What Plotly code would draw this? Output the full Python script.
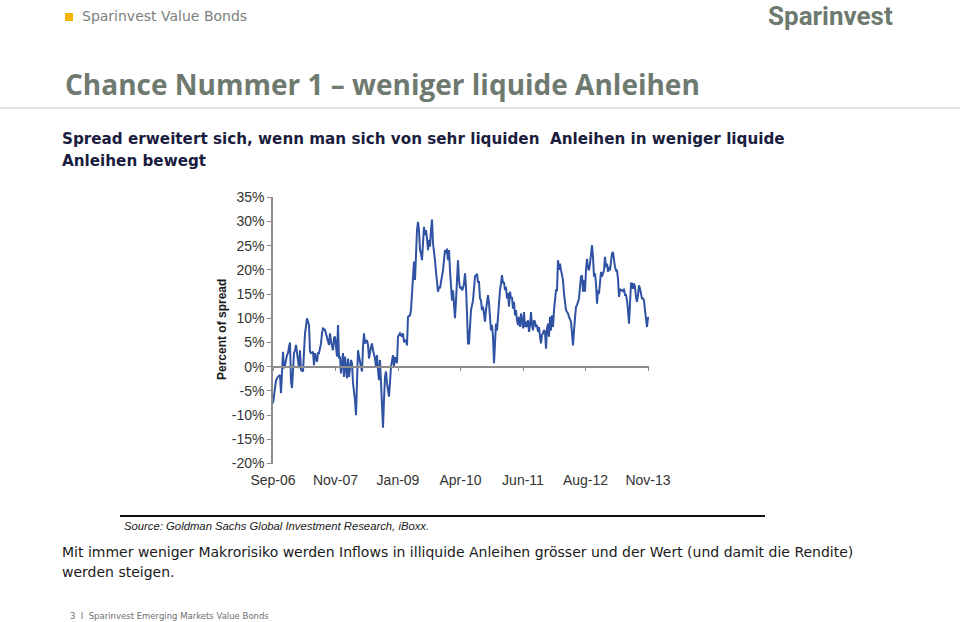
import plotly.graph_objects as go

# ---------------- data ----------------
week = [0, 2, 3, 5, 7, 8, 9, 10, 11, 12, 14, 15, 16, 17, 18, 19, 21, 22, 23, 24, 26, 27, 28, 30, 31, 32, 33, 34, 36, 37, 38, 40, 41, 42, 44, 45, 46, 48, 49, 50, 52, 53, 54, 56, 57, 58, 60, 61, 62, 64, 65, 66,
        67, 68, 70, 71, 72, 74, 75, 76, 78, 79, 80, 82, 83, 84, 85, 86, 88, 89, 90, 91, 92, 94, 95, 96, 98, 99, 100, 102, 103, 104, 105, 106, 107, 108, 109, 110, 111, 112, 113, 114, 116, 117, 118, 120, 121,
        122, 124, 125, 127, 129, 130, 131, 133, 134, 135, 137, 138, 139, 140, 141, 142, 143, 144, 145, 146, 147, 148, 149, 150, 151, 152, 153, 154, 155, 156, 157, 158, 159, 160, 161, 162, 163, 164, 165, 166, 167, 168, 169, 170, 171, 172, 173, 174, 175, 176, 177, 178, 179, 180, 181, 182, 183, 184, 185, 186, 187, 188, 189, 190, 191, 192, 193, 194, 195, 196, 197,
        198, 200, 201, 202, 204, 205, 206, 207, 208, 209, 210, 211, 212, 213, 214, 215, 216, 217, 218, 219, 220, 221, 222, 223, 224, 225, 226, 227, 228, 229, 230, 231, 232, 233, 234, 235, 236, 237, 238, 239, 240, 241, 242, 243, 244, 245, 246, 247, 248, 249, 250, 251, 252, 253, 254, 255, 256, 257, 258, 259, 260, 261, 262, 263, 264, 265, 266, 267, 268, 269, 270, 271, 272, 273, 274, 275, 276, 277, 278, 279, 280, 281, 282, 283,
        284, 285, 286, 287, 288, 289, 290, 291, 292, 293, 294, 295, 296, 297, 298, 299, 300, 301, 302, 303, 304, 305, 306, 307, 308, 309, 310, 311, 312, 313, 314, 315, 316, 317, 318, 319, 320, 321, 322, 323, 324, 325, 326, 327, 328, 329, 330, 331, 332, 333, 334, 335, 336, 337, 338, 339, 340, 341, 342, 343, 344, 345, 346, 347, 348, 349, 350, 351, 352, 353, 354, 355, 356, 357, 358, 359, 360, 361, 362, 363, 364, 365, 366, 367, 368, 369, 370, 371, 372, 373, 374, 375, 376]

spread = [-7.6, -4.1, -2.8, -2.1, -1.7, -5.5, 0.0, 3.1, -0.3, 0.3, 2.4, 2.8, 4.1, 5.0, -3.0, -4.4, 2.8, 3.4, 4.5, 2.8, -0.3, 3.4, -0.7, -1.0, 3.4, 6.9, 8.3, 10.0, 8.6, 3.1, 2.8, 3.1, 0.3, 2.8, 1.0, 2.8, 2.8, 4.8, 6.9, 7.9, 7.6, 6.9, 5.9, 4.5, 6.9, 5.2, 3.4, 5.9, 6.2, 2.1, 8.6, 1.7,
          2.1, -1.4, 2.8, -2.1, 2.1, -2.4, 1.7, -2.1, 1.4, 0.7, -3.4, -6.9, -10.0, -4.8, 3.4, 2.1, 0.3, -1.0, 4.1, 6.9, 4.8, 5.5, 4.5, 1.7, 4.1, 4.8, 3.4, 1.7, 0.0, 2.4, -0.7, -2.8, 1.4, -3.4, -5.5, -12.6, -6.9, -2.1, -1.0, -3.4, -6.2, -3.1, 0.0, 2.4, 0.0,
          2.0, 0.7, 6.2, 6.9, 6.2, 6.9, 5.1, 5.5, 4.4, 10.3, 10.6, 11.7, 15.1, 19.9, 21.7, 17.9, 24.8, 28.2, 29.9, 28.2, 24.1, 23.4, 22.0, 24.8, 28.9, 27.2, 28.2, 26.5, 24.1, 26.2, 24.8, 28.2, 30.4, 25.5, 22.7, 22.0, 19.6, 16.5, 15.5, 16.5, 16.2, 17.5, 18.6, 19.9, 22.0, 24.1, 23.4, 24.4, 22.0, 24.1, 19.9, 17.2, 13.7, 15.8, 12.4, 10.0, 13.7, 19.9, 22.0, 17.9, 16.2, 16.5, 15.8, 16.2, 17.2, 19.3, 16.5, 11.0, 4.8, 4.8, 8.2,
          11.7, 13.7, 17.2, 18.6, 19.2, 17.5, 17.5, 14.1, 13.7, 11.7, 12.4, 10.3, 9.3, 11.7, 14.1, 14.8, 13.1, 8.9, 7.5, 8.6, 6.2, 0.7, 6.5, 8.9, 7.5, 10.3, 14.4, 15.8, 17.2, 18.9, 17.2, 17.5, 15.8, 16.5, 14.1, 15.2, 12.4, 15.5, 14.1, 14.4, 12.0, 13.4, 10.6, 11.7, 9.6, 8.6, 10.3, 8.2, 11.0, 8.9, 7.9, 11.3, 8.2, 9.3, 8.2, 9.6, 7.2, 8.6, 11.3, 8.6, 7.5, 9.6, 9.3, 8.2, 8.6, 7.2, 8.2, 6.2, 4.8, 6.6, 6.9, 7.6, 7.2, 3.7, 7.9, 8.9, 6.2, 10.3, 7.5, 10.6, 8.2, 11.7, 14.1, 15.8,
          15.8, 22.0, 20.0, 21.3, 20.0, 18.6, 17.9, 15.1, 12.4, 11.7, 11.3, 11.0, 10.3, 9.6, 9.3, 6.9, 4.4, 7.5, 11.0, 12.4, 12.7, 13.4, 14.1, 16.5, 18.6, 18.9, 15.5, 17.9, 15.5, 19.9, 22.3, 20.6, 19.9, 21.3, 23.4, 25.1, 22.7, 18.6, 19.3, 17.2, 13.0, 15.8, 15.1, 17.2, 19.6, 18.6, 19.3, 19.9, 22.7, 20.6, 21.3, 19.6, 20.6, 19.9, 21.7, 23.4, 23.7, 22.0, 20.6, 19.9, 19.9, 18.2, 14.4, 16.1, 15.8, 15.8, 15.5, 16.1, 14.8, 14.8, 13.7, 11.7, 8.9, 13.0, 17.2, 17.2, 16.1, 17.2, 16.5, 14.4, 13.4, 14.8, 16.8, 16.1, 15.1, 14.1, 14.1, 13.7, 11.7, 9.6, 8.2, 10.2, 9.9]

tick_weeks = [0, 62.5, 125, 187.5, 250, 312.5, 375]
tick_labels = ["Sep-06", "Nov-07", "Jan-09", "Apr-10", "Jun-11", "Aug-12", "Nov-13"]
y_ticks = [35, 30, 25, 20, 15, 10, 5, 0, -5, -10, -15, -20]
y_tick_labels = ["35%", "30%", "25%", "20%", "15%", "10%", "5%", "0%", "-5%", "-10%", "-15%", "-20%"]

# ---------------- layout helpers ----------------
W, H = 960, 622
def px(xp):
    return xp / W
def py(yp):
    return 1 - yp / H

x_dom = [px(273), px(649)]
y_dom = [py(463.5), py(197.3)]
y_min, y_max = -20, 35
zero_pos = y_dom[0] + (0 - y_min) / (y_max - y_min) * (y_dom[1] - y_dom[0])

AX = "#8c8c8c"
TICKFONT = dict(family="Liberation Sans, Arial, sans-serif", size=14, color="#333333")

fig = go.Figure()
fig.add_trace(go.Scatter(x=week, y=spread, mode="lines",
                         line=dict(color="#2f52a3", width=2),
                         xaxis="x", yaxis="y", showlegend=False, hoverinfo="skip"))
fig.add_trace(go.Scatter(x=week, y=[None] * len(week), mode="lines",
                         xaxis="x2", yaxis="y", showlegend=False, hoverinfo="skip"))

fig.update_layout(
    width=W, height=H,
    margin=dict(l=0, r=0, t=0, b=0, pad=0, autoexpand=False),
    showlegend=False,
    paper_bgcolor="white", plot_bgcolor="white",
    xaxis=dict(domain=x_dom, range=[0, 376], anchor="y",
               tickmode="array", tickvals=tick_weeks, ticktext=tick_labels,
               tickfont=TICKFONT, ticks="", showline=False, showgrid=False,
               zeroline=False, ticklabelstandoff=6, automargin=False),
    xaxis2=dict(overlaying="x", matches="x", anchor="free", position=zero_pos,
                tickmode="array", tickvals=tick_weeks, showticklabels=False,
                ticks="outside", ticklen=4, tickcolor=AX, tickwidth=1,
                showline=True, linecolor=AX, linewidth=1.5,
                showgrid=False, zeroline=False, automargin=False),
    yaxis=dict(domain=y_dom, range=[y_min, y_max], anchor="x",
               tickmode="array", tickvals=y_ticks, ticktext=y_tick_labels,
               tickfont=TICKFONT, ticks="outside", ticklen=4, tickcolor=AX,
               showline=True, linecolor=AX, linewidth=1.5,
               showgrid=False, zeroline=False, automargin=False),
)

ann = []
def text(x, y, s, size, color, family="DejaVu Sans, sans-serif", weight="normal",
         style="normal", xanchor="left", angle=0):
    ann.append(dict(x=px(x), y=py(y), xref="paper", yref="paper", text=s,
                    showarrow=False, xanchor=xanchor, yanchor="middle",
                    textangle=angle,
                    font=dict(family=family, size=size, color=color,
                              weight=weight, style=style)))

GREEN = "#6e7a6f"
text(80, 16, "Sparinvest Value Bonds", 14, "#7b7f7b")
text(895, 16, "Sparinvest", 26, GREEN, family="Roboto, sans-serif",
     weight="bold", xanchor="right")
text(63, 84, "Chance Nummer 1 \u2013 weniger liquide Anleihen", 28, GREEN,
     family="Open Sans, sans-serif", weight="bold")
text(60, 139, "Spread erweitert sich, wenn man sich von sehr liquiden  Anleihen in weniger liquide",
     15.2, "#1b1d3f", weight="bold")
text(60, 161, "Anleihen bewegt", 15.2, "#1b1d3f", weight="bold")
text(222, 330, "Percent of spread", 12, "#1a1a1a",
     family="Liberation Sans, Arial, sans-serif", weight="bold",
     xanchor="center", angle=-90)
text(122, 526, "Source: Goldman Sachs Global Investment Research, iBoxx.", 11.3,
     "#1a1a1a", family="Liberation Sans, Arial, sans-serif", style="italic")
text(60, 552, "Mit immer weniger Makrorisiko werden Inflows in illiquide Anleihen gr\u00f6sser und der Wert (und damit die Rendite)",
     14, "#1a1a1a")
text(60, 572, "werden steigen.", 14, "#1a1a1a")
text(68, 616, "3  I  Sparinvest Emerging Markets Value Bonds", 8.5, "#6f6f6f")

fig.update_layout(annotations=ann)

fig.update_layout(shapes=[
    dict(type="rect", xref="paper", yref="paper",
         x0=px(65), x1=px(73), y0=py(21), y1=py(13),
         fillcolor="#f5b400", line=dict(width=0)),
    dict(type="line", xref="paper", yref="paper",
         x0=0, x1=1, y0=py(108), y1=py(108),
         line=dict(color="#e2e2e2", width=2)),
    dict(type="line", xref="paper", yref="paper",
         x0=px(120), x1=px(765), y0=py(516), y1=py(516),
         line=dict(color="#111111", width=2)),
])

fig.write_html("out.html")
